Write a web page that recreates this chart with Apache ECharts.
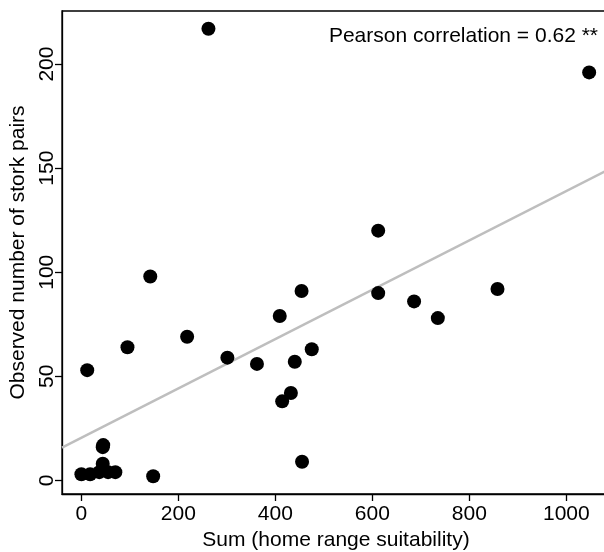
<!DOCTYPE html>
<html>
<head>
<meta charset="utf-8">
<script src="https://cdn.jsdelivr.net/npm/echarts@6/dist/echarts.min.js"></script>
<style>html,body{margin:0;padding:0;background:#fff}#chart{width:604px;height:552px}</style>
</head>
<body>
<div id="chart"></div>
<script>
// Data
var suitability = [0, 18, 37, 44, 44, 45, 55, 70, 148, 12, 95, 142, 218, 262, 301, 362, 409, 414, 432, 440, 454, 455, 475, 612, 612, 686, 735, 858, 1047];
var storkPairs  = [3, 3, 4, 8, 16, 17, 4, 4, 2, 53, 64, 98, 69, 217, 59, 56, 79, 38, 42, 57, 91, 9, 63, 120, 90, 86, 78, 92, 196];
var xTicks = [0, 200, 400, 600, 800, 1000];
var yTicks = [0, 50, 100, 150, 200];
var annotation = 'Pearson correlation = 0.62 **';
var xTitle = 'Sum (home range suitability)';
var yTitle = 'Observed number of stork pairs';

var pts = suitability.map(function (x, i) { return [x, storkPairs[i]]; });
// least squares fit
var n = pts.length, sx = 0, sy = 0, sxx = 0, sxy = 0;
pts.forEach(function (p) { sx += p[0]; sy += p[1]; sxx += p[0] * p[0]; sxy += p[0] * p[1]; });
var slope = (n * sxy - sx * sy) / (n * sxx - sx * sx);
var intercept = (sy - slope * sx) / n;
var xMin = -40, xMax = 1090;
var fitLine = [[xMin, intercept + slope * xMin], [xMax, intercept + slope * xMax]];

var FONT = 'Liberation Sans, Arial, sans-serif';
var chart = echarts.init(document.getElementById('chart'), null, { renderer: 'canvas' });
chart.setOption({
  animation: false,
  backgroundColor: '#fff',
  grid: { left: 62, right: -6, top: 11, bottom: 58, outerBoundsMode: 'none', containLabel: false,
          show: true, borderColor: '#000', borderWidth: 1.3, backgroundColor: 'transparent' },
  xAxis: {
    type: 'value', min: xMin, max: xMax,
    name: xTitle, nameLocation: 'middle', nameGap: 33,
    nameTextStyle: { fontFamily: FONT, fontSize: 21, color: '#000' },
    axisLine: { show: true, onZero: false, lineStyle: { color: '#000', width: 1.3 } },
    splitLine: { show: false },
    axisTick: { show: true, length: 7, customValues: xTicks, lineStyle: { color: '#000', width: 1.3 } },
    axisLabel: { customValues: xTicks, margin: 10, fontFamily: FONT, fontSize: 21, color: '#000',
                 formatter: function (v) { return String(v); } }
  },
  yAxis: {
    type: 'value', min: -6.5, max: 225.5,
    name: yTitle, nameLocation: 'middle', nameGap: 23,
    nameTextStyle: { fontFamily: FONT, fontSize: 21, color: '#000' },
    axisLine: { show: true, onZero: false, lineStyle: { color: '#000', width: 1.3 } },
    splitLine: { show: false },
    axisTick: { show: true, length: 7, customValues: yTicks, lineStyle: { color: '#000', width: 1.3 } },
    axisLabel: { customValues: yTicks, rotate: 90, margin: 4, fontFamily: FONT, fontSize: 21, color: '#000',
                 formatter: function (v) { return String(v); } }
  },
  graphic: [{
    type: 'text', right: 6, top: 26,
    style: { text: annotation, font: '21px ' + FONT, fill: '#000' }
  }],
  series: [
    { type: 'line', data: fitLine, symbol: 'none', silent: true, z: 1,
      lineStyle: { color: '#bebebe', width: 2.5 } },
    { type: 'scatter', data: pts, symbol: 'circle', symbolSize: 14, z: 2,
      itemStyle: { color: '#000', opacity: 1 } }
  ]
});
</script>
</body>
</html>
